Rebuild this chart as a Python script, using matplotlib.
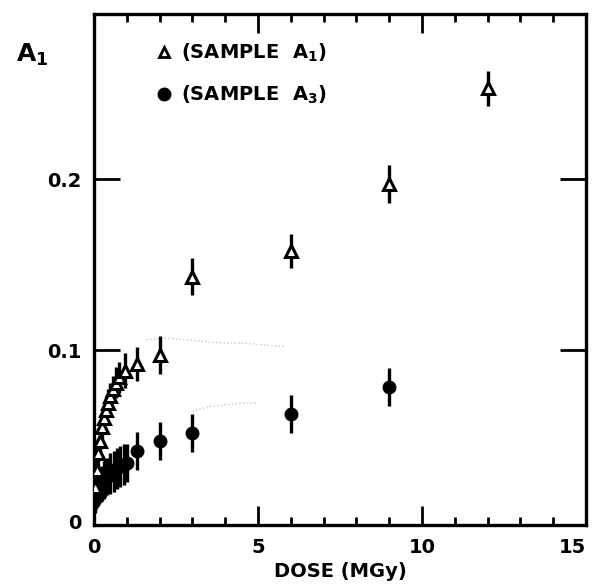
import matplotlib
matplotlib.use("Agg")
import matplotlib.pyplot as plt
from matplotlib.lines import Line2D

# Sample A1 (open triangles)
a1_dose = [0.03, 0.08, 0.12, 0.18, 0.24, 0.30, 0.36, 0.42, 0.50, 0.58, 0.66, 0.75,
           0.95, 1.3, 2.0, 3.0, 6.0, 9.0, 12.0]
a1_val = [0.020, 0.030, 0.040, 0.047, 0.055, 0.060, 0.065, 0.069, 0.073, 0.077, 0.081,
          0.084, 0.088, 0.092, 0.097, 0.143, 0.158, 0.197, 0.253]
a1_err = [0.008, 0.008, 0.008, 0.008, 0.008, 0.008, 0.008, 0.008, 0.008, 0.008, 0.009,
          0.009, 0.010, 0.010, 0.011, 0.011, 0.010, 0.011, 0.010]

# Sample A3 (filled circles)
a3_dose = [0.02, 0.05, 0.08, 0.12, 0.16, 0.20, 0.25, 0.30, 0.35, 0.40, 0.50, 0.60,
           0.70, 0.80, 0.90, 1.0, 1.3, 2.0, 3.0, 6.0, 9.0]
a3_val = [0.013, 0.015, 0.017, 0.018, 0.020, 0.021, 0.022, 0.024, 0.025, 0.026, 0.028,
          0.029, 0.031, 0.032, 0.033, 0.034, 0.041, 0.047, 0.0515, 0.0626, 0.0784]
a3_err = [0.008, 0.008, 0.009, 0.009, 0.010, 0.010, 0.010, 0.011, 0.011, 0.011, 0.012,
          0.012, 0.012, 0.012, 0.012, 0.011, 0.011, 0.011, 0.011, 0.011, 0.011]

# faint dotted traces left in the print
trace_hi_x = [1.6, 2.2, 2.8, 3.4, 4.0, 4.6, 5.2, 5.8]
trace_hi_y = [0.106, 0.107, 0.106, 0.105, 0.104, 0.104, 0.103, 0.102]
trace_lo_x = [3.0, 3.5, 4.0, 4.5, 5.0]
trace_lo_y = [0.064, 0.067, 0.068, 0.069, 0.069]

x_ticks = [0, 5, 10, 15]
y_ticks = [0, 0.1, 0.2]
y_labels = ["0", "0.1", "0.2"]

plt.rcParams['font.family'] = ['DejaVu Sans']
plt.rcParams['font.weight'] = 'bold'

fig = plt.figure(figsize=(5.93, 5.87), dpi=100)
ax = fig.add_axes([0.1585, 0.1056, 0.8297, 0.8705])

ax.plot(trace_hi_x, trace_hi_y, ls=':', color='#c8c8c8', lw=1.0, zorder=1)
ax.plot(trace_lo_x, trace_lo_y, ls=':', color='#c8c8c8', lw=1.0, zorder=1)

ax.errorbar(a3_dose, a3_val, yerr=a3_err, fmt='o', ms=9, color='black',
            mfc='black', mec='black', elinewidth=2.4, capsize=0, zorder=3)
ax.errorbar(a1_dose, a1_val, yerr=a1_err, fmt='^', ms=8, color='black',
            mfc='white', mec='black', mew=2.2, elinewidth=2.4, capsize=0, zorder=4)

ax.set_xlim(0, 15)
ax.set_ylim(-0.0023, 0.2965)

ax.set_xticks(x_ticks)
ax.set_xticklabels([str(v) for v in x_ticks], fontsize=14)
ax.get_xticklabels()[-1].set_horizontalalignment('right')
ax.set_xticks(range(16), minor=True)
ax.tick_params(axis='x', which='major', direction='in', length=14, width=2,
               top=True, bottom=True, pad=9)
ax.tick_params(axis='x', which='minor', direction='in', length=6, width=2,
               top=True, bottom=True)

ax.set_yticks(y_ticks)
ax.set_yticklabels(y_labels, fontsize=14)
ax.tick_params(axis='y', which='major', direction='in', length=19, width=2,
               left=True, right=True, pad=9)
ax.yaxis.get_major_ticks()[0].tick1line.set_visible(False)
ax.yaxis.get_major_ticks()[0].tick2line.set_visible(False)

for sp in ax.spines.values():
    sp.set_linewidth(2.4)

ax.set_xlabel('DOSE (MGy)', fontsize=14, fontweight='bold', labelpad=4)
fig.text(0.027, 0.885, r'$\mathbf{A}_\mathbf{1}$', fontsize=18, ha='left', va='bottom')

handles = [
    Line2D([], [], marker='^', ls='none', ms=7, mfc='white', mec='black', mew=2),
    Line2D([], [], marker='o', ls='none', ms=9, mfc='black', mec='black'),
]
ax.legend(handles, [r'(SAMPLE  A$_\mathbf{1}$)', r'(SAMPLE  A$_\mathbf{3}$)'],
          loc='upper left', bbox_to_anchor=(0.09, 0.98), frameon=False,
          handlelength=0.8, handletextpad=0.5, labelspacing=1.0,
          prop={'size': 14, 'weight': 'bold'})

fig.savefig('out.png', dpi=100)
